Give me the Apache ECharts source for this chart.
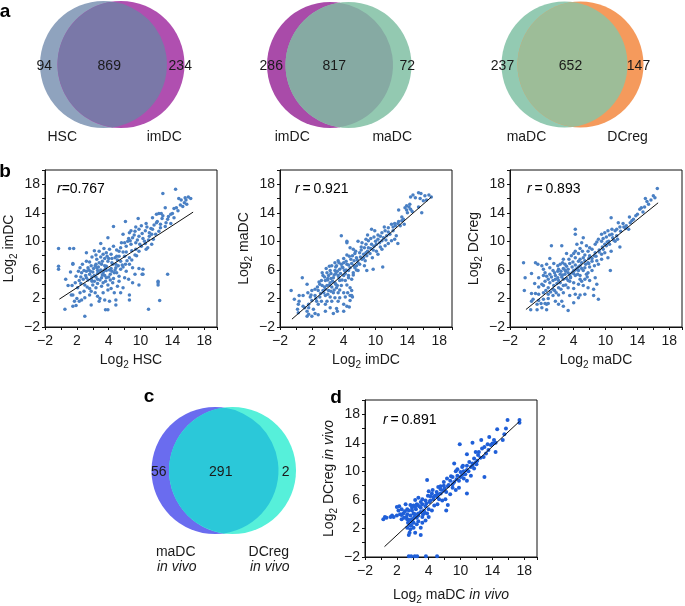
<!DOCTYPE html>
<html><head><meta charset="utf-8">
<script src="https://cdn.jsdelivr.net/npm/echarts@6/dist/echarts.min.js"></script>
<style>html,body{margin:0;padding:0;background:#fff}#c{width:685px;height:606px}</style>
</head><body><div id="c"></div>
<script>
// ---------------- data ----------------
const xTickLabels = ['−2','2','4','10','14','18'];
const yTickLabels = ['−2','2','6','10','14','18'];

const vennNames  = [['HSC','imDC'],['imDC','maDC'],['maDC','DCreg']];
const vennCounts = [[94,869,234],[286,817,72],[237,652,147]];
const vennCNames = ['maDC','DCreg'];
const vennCSuffix = 'in vivo';
const vennCCounts = [56,291,2];

const rValues = ['0.767','0.921','0.893','0.891'];

const pointsHSCimDC = [[14.4,17.3],[12.8,16.7],[16.0,16.2],[16.3,16.0],[15.6,16.1],[14.8,16.0],[15.1,15.8],[15.5,15.4],[15.8,15.2],[15.3,14.9],[14.5,14.7],[13.1,14.7],[12.3,13.9],[12.0,13.8],[12.8,13.6],[13.8,13.8],[14.7,14.3],[14.2,13.3],[13.4,13.1],[12.7,13.2],[12.1,12.8],[11.5,13.3],[9.7,13.2],[8.1,12.8],[10.7,12.5],[11.7,12.3],[12.5,12.4],[13.1,12.1],[13.8,12.5],[11.5,11.7],[11.1,11.2],[10.6,11.5],[9.8,11.7],[9.4,12.0],[8.6,11.2],[7.8,11.0],[6.6,12.1],[5.9,10.5],[5.0,9.7],[8.5,10.4],[9.0,10.5],[9.8,10.7],[10.3,10.4],[11.1,10.7],[11.6,10.3],[11.9,11.0],[12.3,11.4],[10.6,9.7],[9.9,9.6],[9.4,9.8],[8.8,9.6],[8.2,9.3],[7.5,9.1],[7.3,8.6],[7.8,8.5],[8.2,8.5],[8.9,8.7],[9.4,8.9],[9.8,8.6],[10.7,8.9],[10.9,9.1],[11.4,9.6],[9.3,8.1],[8.6,7.7],[8.0,7.9],[7.3,7.9],[6.8,7.7],[6.3,8.2],[5.7,8.4],[5.3,8.2],[4.8,8.6],[4.2,8.7],[3.2,8.4],[3.9,7.8],[4.5,7.5],[5.2,7.2],[5.9,7.2],[6.4,7.0],[6.9,6.8],[7.5,7.2],[8.1,6.8],[8.6,6.8],[9.0,6.3],[9.8,6.2],[10.2,5.4],[9.3,5.4],[8.2,5.8],[7.5,6.1],[6.9,6.3],[6.3,6.2],[5.7,6.5],[5.1,6.8],[4.4,6.8],[3.8,6.6],[3.2,7.2],[2.7,6.8],[2.4,6.3],[1.5,6.8],[1.2,5.7],[1.9,5.1],[2.6,5.6],[3.2,5.8],[3.6,5.4],[4.0,5.7],[4.6,5.9],[5.3,5.6],[5.7,5.9],[6.2,5.4],[6.7,5.6],[7.3,5.1],[8.0,4.9],[8.5,4.7],[9.0,4.2],[9.8,3.9],[5.7,4.9],[5.1,4.9],[4.6,4.7],[4.2,4.4],[3.8,4.7],[3.2,4.9],[2.8,4.7],[2.3,4.5],[5.3,4.2],[5.9,3.9],[6.5,4.2],[7.1,3.7],[7.8,3.5],[5.1,3.7],[4.0,3.9],[3.0,3.9],[2.1,3.5],[1.5,2.5],[4.4,3.5],[5.9,3.2],[6.7,2.8],[7.5,2.8],[8.6,2.5],[5.3,2.8],[4.6,2.3],[3.6,2.5],[3.0,2.1],[2.6,1.8],[2.0,2.0],[2.3,1.6],[1.7,1.6],[1.5,0.9],[1.9,1.0],[4.8,1.6],[5.5,1.8],[6.1,1.6],[6.9,1.8],[8.6,1.8],[5.9,0.4],[5.6,0.4],[6.9,1.1],[3.8,1.1],[0.5,0.5],[3.0,-0.5],[11.0,0.5],[12.4,1.7],[13.4,5.4],[12.2,4.4],[12.2,4.2],[12.2,3.9],[10.3,6.1],[10.3,5.4],[-0.3,9.0],[1.1,9.0],[1.6,9.0],[-0.3,6.5],[-0.3,6.1],[1.5,6.9],[0.6,4.7],[1.4,3.8],[4.5,6.3],[5.0,6.0],[5.5,6.6],[4.2,5.2],[3.5,6.0],[4.8,7.0],[6.0,7.6],[5.2,5.3],[3.9,5.0],[4.6,5.5],[6.5,6.8],[5.8,7.9],[7.0,8.8],[7.6,9.8],[8.4,10.0],[9.2,10.9],[8.8,11.5],[9.6,10.2],[10.2,11.1],[10.8,12.0],[11.3,11.8],[12.0,12.6],[13.5,13.5],[14.2,14.6],[15.0,15.1],[12.6,13.9],[7.1,7.4],[6.6,9.3],[3.6,3.4],[4.9,2.0],[2.9,3.0],[0.9,3.8],[1.3,2.5],[3.4,6.3],[3.7,5.8],[4.1,6.2],[4.3,6.6],[4.7,6.4],[4.9,5.7],[5.4,5.9],[5.6,6.2],[6.1,6.0],[6.4,5.8],[6.8,6.0],[7.2,6.6],[7.7,6.7],[3.1,5.2],[3.4,4.6],[3.9,4.4],[4.4,5.0],[4.9,4.6],[5.5,5.2],[6.0,5.0],[6.6,4.8],[2.5,5.0],[2.9,5.9],[2.2,5.8],[2.5,4.1],[3.3,3.6],[4.6,4.1],[5.6,4.4],[6.2,4.6],[7.0,5.6],[7.8,6.4],[8.3,7.3],[8.9,7.4],[9.5,8.0],[10.1,9.3],[10.5,10.0],[11.0,10.2],[11.4,11.0],[12.5,11.9],[13.2,12.6],[7.0,7.9],[6.4,7.6],[5.5,7.6],[5.0,7.8],[4.4,8.1],[3.6,7.1],[6.1,8.9],[5.4,9.0],[8.0,9.8],[8.7,10.1],[9.3,11.4],[10.1,12.2],[14.0,13.9],[15.7,15.8],[3.8,3.0],[4.3,2.8],[2.4,2.8],[1.8,4.2],[6.3,3.4],[7.3,4.4]];
const fitHSCimDC = [[-0.2,1.9],[16.6,14.1]];

const pointsImDCmaDC = [[14.4,16.2],[14.7,16.5],[15.4,16.8],[15.7,16.7],[16.2,16.4],[16.7,16.5],[17.0,16.2],[15.0,16.1],[15.6,16.0],[16.0,15.7],[16.4,15.8],[15.8,14.0],[15.4,14.8],[14.3,15.2],[13.9,15.0],[13.7,14.7],[14.2,14.8],[12.9,14.4],[13.9,14.4],[14.4,14.5],[13.3,13.4],[13.5,13.1],[12.9,12.8],[12.4,12.5],[12.0,12.4],[12.5,12.2],[13.1,12.2],[13.6,12.4],[11.6,11.9],[11.1,12.0],[11.2,11.5],[12.2,11.5],[12.6,10.8],[12.4,10.3],[12.8,9.7],[11.8,11.0],[11.4,10.8],[10.8,11.2],[10.3,10.9],[9.9,11.5],[9.5,11.7],[9.0,10.9],[9.8,10.6],[10.3,10.3],[10.8,10.1],[10.1,9.6],[9.5,9.6],[9.1,10.1],[8.8,10.3],[8.3,9.8],[7.8,10.0],[8.2,9.2],[8.6,9.1],[9.1,9.1],[9.7,8.8],[10.1,8.6],[9.3,8.3],[8.8,8.4],[8.0,8.4],[7.5,8.6],[7.2,8.9],[6.8,9.1],[6.4,10.0],[5.7,10.8],[7.1,8.0],[7.6,7.7],[8.3,7.5],[8.7,7.3],[7.8,7.0],[7.3,7.3],[6.9,7.5],[6.4,8.1],[6.0,7.6],[5.3,7.3],[4.9,7.0],[4.5,6.6],[5.1,6.6],[5.7,6.8],[6.4,6.8],[6.8,6.3],[7.4,6.3],[8.0,6.8],[8.6,6.6],[8.9,5.9],[9.7,6.1],[10.9,6.4],[7.8,5.9],[7.2,5.6],[6.6,5.9],[6.1,5.9],[5.5,6.1],[4.9,5.9],[4.3,5.9],[3.9,5.6],[3.4,5.2],[4.1,5.2],[4.7,4.9],[5.3,5.2],[6.0,5.2],[6.6,5.2],[7.0,4.7],[6.2,4.5],[5.5,4.5],[4.9,4.2],[4.3,4.2],[3.7,4.5],[3.2,4.5],[3.0,4.0],[3.9,3.8],[4.5,3.6],[5.1,3.5],[5.7,3.8],[6.4,3.9],[6.8,3.5],[7.0,3.1],[6.5,2.8],[6.0,2.8],[5.3,2.8],[4.7,2.8],[4.1,3.1],[3.4,3.1],[2.8,3.1],[2.4,3.3],[2.0,3.1],[1.5,2.8],[1.4,4.0],[0.8,4.9],[0.9,2.4],[1.8,2.2],[2.4,2.4],[3.0,2.2],[3.7,2.4],[4.3,2.2],[4.9,2.1],[5.5,2.1],[6.2,2.2],[6.8,2.4],[5.3,1.6],[6.0,1.2],[6.4,0.9],[4.5,1.6],[3.9,1.6],[3.2,1.6],[2.6,1.6],[2.0,1.7],[1.6,1.2],[0.9,0.9],[0.3,1.2],[0.4,1.6],[0.2,0.5],[1.1,0.7],[1.6,0.7],[2.2,0.5],[2.8,1.2],[3.7,1.2],[4.3,0.7],[5.1,0.6],[0.3,0.0],[1.6,-0.2],[2.4,-0.1],[1.4,-0.5],[-0.6,3.1],[6.4,9.8],[7.0,2.4],[6.8,1.7],[7.1,2.2],[6.0,0.2],[5.2,0.2],[2.8,-0.3],[2.0,-0.5],[1.4,0.2],[0.4,2.4],[-0.2,1.9],[3.7,0.2],[4.7,-0.1],[6.7,0.8],[8.5,7.7],[8.9,8.0],[9.6,7.7],[10.3,8.2],[10.8,8.9],[11.2,9.4],[11.6,9.7],[12.0,10.1],[10.6,9.2],[5.0,5.5],[5.8,6.4],[4.4,4.8],[6.3,7.2],[3.6,3.6],[7.6,6.6],[4.0,4.6],[5.5,3.2],[3.6,5.0],[4.0,4.8],[4.4,5.5],[4.8,5.3],[5.2,5.8],[5.6,5.5],[5.9,6.3],[6.3,6.0],[6.6,6.7],[7.0,6.9],[7.3,6.6],[7.7,7.4],[8.1,7.8],[8.5,8.2],[9.0,8.6],[9.4,9.0],[9.8,9.3],[10.5,9.8],[11.0,10.5],[11.6,11.3],[12.2,12.0],[12.8,12.5],[13.3,12.9],[14.0,14.0],[14.6,14.2],[3.3,3.8],[3.7,3.3],[4.2,3.9],[4.6,4.4],[5.0,4.0],[5.4,4.9],[5.8,4.6],[6.2,5.5],[6.6,4.9],[7.2,5.3],[7.6,6.0],[2.7,3.6],[3.1,2.7],[3.5,2.8],[4.0,2.6],[4.4,3.0],[4.8,3.2],[5.2,3.8],[2.5,2.0],[1.9,2.5],[2.9,4.3],[3.3,5.6],[3.8,6.2],[4.2,6.5],[5.0,6.4],[5.4,7.0],[6.0,7.0],[6.7,7.9],[7.4,8.3],[8.2,8.8],[8.8,9.6],[9.4,10.4],[10.0,10.0],[10.6,10.7],[11.3,10.2]];
const fitImDCmaDC = [[-0.5,-0.9],[17.0,16.2]];

const pointsMaDCDCreg = [[16.5,17.4],[16.0,16.4],[16.2,16.1],[15.7,15.8],[15.0,16.0],[15.2,15.6],[15.4,15.2],[14.9,14.8],[14.5,14.7],[14.3,14.5],[13.5,13.1],[13.3,12.9],[13.1,12.6],[12.6,12.2],[12.9,11.7],[12.2,12.5],[11.8,12.0],[11.6,12.6],[10.7,13.3],[10.8,11.7],[10.3,11.5],[9.9,11.2],[9.5,11.0],[10.1,10.6],[10.8,11.0],[11.2,11.5],[11.4,10.8],[11.5,10.3],[11.2,10.0],[11.8,9.2],[10.4,10.0],[9.9,9.6],[9.5,10.0],[9.1,10.3],[8.7,9.6],[8.3,8.9],[7.8,8.6],[7.6,9.4],[7.2,10.5],[7.0,9.8],[6.2,11.7],[6.2,11.0],[6.4,9.6],[6.2,8.6],[6.6,8.3],[7.1,8.6],[7.4,8.1],[8.0,8.0],[8.7,8.4],[9.2,8.8],[9.5,8.2],[9.9,8.4],[10.7,8.6],[10.3,7.7],[9.5,7.5],[8.9,7.3],[8.3,7.2],[7.8,7.0],[7.4,7.3],[6.8,7.5],[6.2,7.7],[5.7,8.0],[5.1,8.3],[4.7,7.5],[4.5,9.4],[3.2,9.4],[4.3,6.8],[4.9,6.8],[5.5,6.9],[6.2,6.7],[6.8,6.6],[7.4,6.3],[8.0,6.4],[8.6,6.6],[9.1,6.8],[8.3,5.9],[7.8,5.6],[7.2,5.9],[6.6,5.9],[6.0,5.9],[5.3,6.1],[4.7,6.2],[4.1,6.1],[3.4,5.9],[3.0,6.3],[2.6,6.8],[2.0,6.6],[1.5,6.8],[1.2,7.0],[2.4,5.6],[3.0,5.4],[3.7,5.2],[4.3,5.4],[4.9,5.4],[5.5,5.3],[6.2,5.2],[6.8,5.2],[7.4,4.7],[8.0,4.5],[8.7,4.9],[8.9,4.0],[8.5,3.3],[7.8,3.5],[7.2,3.8],[6.6,4.0],[6.0,4.2],[5.3,4.5],[4.7,4.7],[4.1,4.5],[3.4,4.5],[2.8,4.7],[2.2,5.2],[1.6,4.9],[0.7,5.5],[-0.1,4.9],[-0.3,7.0],[-0.2,3.1],[6.0,3.4],[5.3,3.5],[4.7,3.8],[4.1,3.5],[3.4,3.3],[2.8,3.5],[2.2,3.8],[1.6,3.6],[1.1,4.1],[4.7,2.8],[4.1,2.5],[3.4,2.4],[2.8,2.6],[2.2,2.8],[1.6,2.6],[1.2,2.7],[0.9,1.9],[1.6,1.7],[2.2,1.9],[2.8,2.0],[5.5,2.4],[6.2,2.6],[6.8,2.5],[7.4,2.6],[8.5,2.4],[9.1,1.9],[6.6,2.1],[5.3,0.3],[2.6,1.2],[1.9,1.3],[2.4,1.3],[2.8,1.3],[1.4,1.2],[0.7,1.6],[0.6,0.4],[1.4,0.4],[2.6,0.4],[3.7,1.6],[4.1,1.2],[4.7,0.9],[3.6,3.1],[0.7,2.7],[6.0,1.4],[10.6,5.9],[6.8,4.7],[7.6,5.4],[4.5,1.6],[2.0,0.7],[5.0,5.8],[5.8,6.4],[4.4,5.8],[6.4,6.2],[5.6,4.9],[4.0,4.9],[7.0,7.0],[7.9,7.6],[8.6,8.0],[9.6,9.2],[10.2,9.9],[10.9,10.5],[11.9,11.4],[12.3,12.0],[13.8,13.6],[14.7,14.1],[3.6,5.6],[4.0,5.8],[4.5,5.0],[4.9,6.0],[5.3,5.6],[5.8,5.6],[6.2,6.0],[6.6,6.4],[7.0,6.2],[7.5,6.8],[7.9,6.9],[8.3,7.6],[8.8,7.9],[9.2,8.5],[9.7,8.9],[10.1,9.4],[10.5,9.6],[11.0,10.2],[3.2,5.0],[3.7,4.7],[4.3,4.2],[4.6,5.3],[5.1,4.8],[5.6,5.0],[6.0,5.5],[6.5,5.4],[7.0,4.4],[7.7,5.0],[2.6,5.1],[3.0,4.2],[3.5,3.8],[3.9,4.1],[4.4,3.3],[5.0,3.9],[5.5,4.4],[2.4,4.4],[2.0,4.0],[2.5,3.1],[3.1,2.9],[3.8,2.8],[5.1,6.5],[5.9,7.1],[6.6,7.2],[7.2,7.7],[4.0,6.6],[3.5,6.9],[4.6,7.0],[5.4,7.5],[6.0,8.3],[6.8,9.0],[8.0,9.1],[8.9,9.9],[9.7,10.4],[10.5,10.9],[11.4,11.7],[12.5,11.8],[13.0,13.4],[14.0,13.8],[3.0,7.6],[2.2,6.1]];
const fitMaDCDCreg = [[0.0,0.45],[16.6,15.4]];

const pointsInVivo = [[17.4,17.2],[17.4,16.8],[15.9,17.2],[14.6,15.9],[15.5,15.2],[15.7,16.0],[14.2,14.4],[14.4,14.0],[14.0,13.9],[13.8,13.7],[13.4,13.8],[13.0,13.4],[12.7,13.2],[13.5,13.0],[13.2,12.5],[14.4,12.7],[12.3,12.7],[11.9,12.7],[11.5,14.0],[9.9,13.8],[10.8,12.4],[11.7,11.8],[12.1,11.5],[11.9,11.2],[11.5,11.1],[11.1,11.3],[10.8,10.8],[11.3,10.6],[11.7,10.4],[10.8,10.2],[10.4,10.0],[10.0,9.9],[9.4,10.0],[9.6,9.4],[10.0,9.2],[10.4,9.0],[10.8,8.7],[11.3,9.4],[13.0,9.2],[9.8,8.7],[9.2,8.5],[8.7,8.7],[8.3,9.0],[7.9,8.5],[8.4,7.9],[9.0,7.7],[9.4,7.4],[9.8,7.7],[10.8,6.9],[8.7,6.8],[8.2,7.1],[7.8,7.3],[7.5,7.5],[7.1,6.8],[6.8,6.6],[6.4,6.9],[6.0,7.2],[5.8,8.8],[6.2,6.5],[6.6,6.1],[7.3,6.1],[7.7,5.9],[8.1,6.1],[8.4,5.3],[7.1,5.4],[6.7,5.2],[6.1,5.7],[5.6,5.9],[5.2,6.1],[4.7,6.3],[4.3,6.0],[5.0,5.7],[4.5,5.4],[4.1,5.2],[3.7,5.3],[3.1,5.4],[2.3,5.1],[2.6,4.7],[3.3,4.7],[3.9,4.9],[4.4,4.7],[5.0,4.9],[5.6,5.1],[6.0,4.7],[6.4,4.5],[5.8,4.1],[5.3,4.0],[4.7,4.1],[4.1,4.1],[3.7,3.8],[3.3,4.0],[2.8,4.1],[2.2,4.5],[2.0,3.8],[1.6,3.6],[1.2,3.6],[0.7,3.5],[0.3,3.3],[0.5,3.6],[1.4,3.8],[2.6,3.3],[3.3,3.3],[3.9,3.3],[4.5,3.5],[5.2,3.6],[4.1,2.8],[3.6,2.5],[3.3,2.1],[3.7,1.9],[4.1,2.1],[4.5,2.6],[5.2,2.8],[5.6,3.1],[5.0,2.1],[4.3,1.4],[3.5,1.1],[5.0,1.1],[3.6,1.4],[3.8,2.4],[4.0,3.3],[2.0,5.0],[2.6,3.9],[4.3,4.0],[4.6,5.3],[5.4,4.5],[6.0,3.6],[3.5,-1.9],[3.8,-1.9],[4.25,-1.9],[4.55,-1.9],[5.65,-1.9],[7.05,-1.9],[8.2,4.5],[7.1,6.4],[7.5,7.9],[9.0,9.2],[10.2,10.6],[9.2,11.1],[12.2,12.3],[13.6,14.8],[12.6,14.4],[15.3,14.4],[3.0,4.4],[3.5,4.5],[3.9,4.5],[4.3,5.0],[4.8,5.1],[5.2,5.4],[5.7,5.5],[6.2,5.9],[6.6,6.4],[7.0,7.1],[7.5,6.9],[8.0,7.6],[8.5,8.1],[9.0,8.2],[9.5,8.9],[10.2,9.5],[10.6,9.6],[11.0,10.0],[11.5,10.8],[12.0,11.0],[12.5,11.9],[12.9,12.0],[3.2,3.6],[3.6,3.2],[4.2,3.6],[4.7,3.8],[5.0,4.3],[5.5,4.2],[3.9,2.9],[4.7,3.0],[2.4,4.0],[2.9,3.5],[3.4,2.8],[5.9,6.6],[6.5,7.4],[7.2,7.8],[7.9,8.0],[8.8,9.3],[9.6,10.3],[10.3,10.8]];
const fitInVivo = [[0.45,-0.55],[17.4,17.0]];

// ---------------- layout / style ----------------
const FONT = "'Liberation Sans', Arial, Helvetica, sans-serif";
const TXT = '#1a1a1a';
const GW = 172, GH = 157;

const chart = echarts.init(document.getElementById('c'), null, {renderer: 'canvas', width: 685, height: 606});

const richAxis = {
  a: {fontSize: 14, lineHeight: 20, color: TXT, fontFamily: FONT},
  s: {fontSize: 10, lineHeight: 10, verticalAlign: 'bottom', color: TXT, fontFamily: FONT},
  i: {fontSize: 14, lineHeight: 20, fontStyle: 'italic', color: TXT, fontFamily: FONT}
};
function logName(name, italicSuffix) {
  return '{a|Log}{s|2}{a| ' + name + (italicSuffix ? ' ' : '') + '}' + (italicSuffix ? '{i|' + italicSuffix + '}' : '');
}
function tickFmt(labels) {
  return function (v) {
    const k = (v + 2) / 4;
    const r = Math.round(k);
    if (Math.abs(k - r) < 1e-6 && r >= 0 && r < labels.length) return labels[r];
    return '';
  };
}

const panels = [
  {left: 45,  top: 170, xName: logName('HSC'),  yName: logName('imDC'),  pts: pointsHSCimDC,  fit: fitHSCimDC,  color: '#4a80c4', size: 3.5, xGap: 23},
  {left: 280, top: 170, xName: logName('imDC'), yName: logName('maDC'),  pts: pointsImDCmaDC, fit: fitImDCmaDC, color: '#4a80c4', size: 3.5, xGap: 23},
  {left: 510, top: 170, xName: logName('maDC'), yName: logName('DCreg'), pts: pointsMaDCDCreg, fit: fitMaDCDCreg, color: '#4a80c4', size: 3.5, xGap: 23},
  {left: 365, top: 400, xName: logName('maDC', vennCSuffix), yName: logName('DCreg', vennCSuffix), pts: pointsInVivo, fit: fitInVivo, color: '#1f5fd8', size: 4, xGap: 28}
];
const rPos = [[57,189],[295,189],[527,189],[383,420]];

const vennLayout = [
  {mid: 112.25, cy: 64.5, r: 63.5, sep: 17.5, colors: ['#8fa3be', '#b04fb0', '#7a78a8'], nameDx: [-50, 52], nameDy: 72.5, countDx: [-68, -3, 68]},
  {mid: 339.25, cy: 65,   r: 63,   sep: 18.5, colors: ['#a94ba9', '#93c9b1', '#86aaa3'], nameDx: [-47, 53], nameDy: 72.5, countDx: [-68, -5, 68]},
  {mid: 572.5,  cy: 64.5, r: 63,   sep: 16,   colors: ['#93cab2', '#f59a5c', '#9dbd98'], nameDx: [-46, 55], nameDy: 72.5, countDx: [-70, -2, 66]},
  {mid: 223.75, cy: 470.5, r: 63.5, sep: 17.5, colors: ['#6a6cef', '#56f0da', '#2bc8d9'], nameDx: [-48, 45], nameDy: 81.5, countDx: [-65, -3, 62]}
];

const grids = [], xAxes = [], yAxes = [], series = [];

panels.forEach((p, i) => {
  grids.push({left: p.left, top: p.top, width: GW, height: GH, show: true, borderColor: '#111', borderWidth: 1, backgroundColor: 'transparent', containLabel: false});
  const common = {
    gridIndex: i, type: 'value', interval: 4, min: -2,
    axisLine: {show: true, onZero: false, lineStyle: {color: '#111', width: 1}},
    axisTick: {show: true, length: 3, lineStyle: {color: '#111'}},
    minorTick: {show: true, splitNumber: 2, length: 3, lineStyle: {color: '#111'}},
    splitLine: {show: false}, minorSplitLine: {show: false},
    nameLocation: 'middle',
    nameTextStyle: {rich: richAxis}
  };
  xAxes.push(Object.assign({}, common, {
    max: 19.6, name: p.xName, nameGap: p.xGap,
    axisLabel: {formatter: tickFmt(xTickLabels), color: TXT, fontSize: 14, fontFamily: FONT, margin: 7, showMaxLabel: false}
  }));
  yAxes.push(Object.assign({}, common, {
    max: 20, name: p.yName, nameGap: 26,
    axisLabel: {formatter: tickFmt(yTickLabels), color: TXT, fontSize: 14, fontFamily: FONT, margin: 5, showMaxLabel: false}
  }));
  series.push({type: 'scatter', xAxisIndex: i, yAxisIndex: i, data: p.pts, symbolSize: p.size,
    itemStyle: {color: p.color, opacity: 1}, silent: true, z: 2});
  series.push({type: 'line', xAxisIndex: i, yAxisIndex: i, data: p.fit, symbol: 'none',
    lineStyle: {color: '#111', width: 1}, silent: true, z: 3});
});

function makeVennRender(v, names, counts, italicSuffix) {
  return function (params, api) {
    const h = v.sep / 2 / v.r;
    const c1 = api.coord([-h, 0]);
    const c2 = api.coord([h, 0]);
    const R = api.size([1, 1])[0];
    const cy = c1[1];
    const xm = (c1[0] + c2[0]) / 2;
    const d = c2[0] - c1[0];
    const a = Math.sqrt(R * R - d * d / 4);
    const lens = 'M' + xm + ' ' + (cy - a) + ' A' + R + ' ' + R + ' 0 0 0 ' + xm + ' ' + (cy + a) +
                 ' A' + R + ' ' + R + ' 0 0 0 ' + xm + ' ' + (cy - a) + ' Z';
    const txt = (s, x, y, italic) => ({type: 'text', x: x, y: y, z2: 10,
      style: {text: String(s), fill: TXT, fontSize: 14, fontFamily: FONT, fontStyle: italic ? 'italic' : 'normal', align: 'center', verticalAlign: 'middle'}});
    const children = [
      {type: 'circle', shape: {cx: c1[0], cy: cy, r: R}, style: {fill: v.colors[0]}},
      {type: 'circle', shape: {cx: c2[0], cy: cy, r: R}, style: {fill: v.colors[1]}},
      {type: 'path', shape: {pathData: lens}, style: {fill: v.colors[2]}}
    ];
    counts.forEach((c, k) => children.push(txt(c, xm + v.countDx[k], cy + 1.5)));
    names.forEach((n, k) => {
      children.push(txt(n, xm + v.nameDx[k], cy + v.nameDy));
      if (italicSuffix) children.push(txt(italicSuffix, xm + v.nameDx[k] + 1, cy + v.nameDy + 15, true));
    });
    return {type: 'group', children: children};
  };
}

vennLayout.forEach((v, j) => {
  const gi = panels.length + j;
  const half = v.sep / 2 / v.r + 1;
  grids.push({left: v.mid - v.sep / 2 - v.r, top: v.cy - v.r, width: v.sep + 2 * v.r, height: 2 * v.r, show: false});
  xAxes.push({gridIndex: gi, type: 'value', min: -half, max: half, show: false});
  yAxes.push({gridIndex: gi, type: 'value', min: -1, max: 1, show: false});
  const names = j < 3 ? vennNames[j] : vennCNames;
  const counts = j < 3 ? vennCounts[j] : vennCCounts;
  series.push({type: 'custom', xAxisIndex: gi, yAxisIndex: gi, data: [[0, 0]], clip: false, silent: true,
    renderItem: makeVennRender(v, names, counts, j < 3 ? null : vennCSuffix)});
});

const letterStyle = (t) => ({text: t, fill: '#000', fontSize: 19, fontWeight: 'bold', fontFamily: FONT, align: 'center', verticalAlign: 'middle'});
const rRich = {i: {fontStyle: 'italic', fontSize: 14, fontFamily: FONT, color: TXT}, n: {fontSize: 14, fontFamily: FONT, color: TXT}};
const graphic = [
  {type: 'text', x: 5, y: 12, style: letterStyle('a')},
  {type: 'text', x: 5, y: 172, style: letterStyle('b')},
  {type: 'text', x: 149, y: 397, style: letterStyle('c')},
  {type: 'text', x: 336, y: 398, style: letterStyle('d')}
];
rValues.forEach((r, i) => {
  const sep = i === 0 ? '' : '\u2009';
  graphic.push({type: 'text', x: rPos[i][0], y: rPos[i][1], z: 10,
    style: {text: '{i|r}{n|' + sep + '=' + sep + r + '}', rich: rRich, align: 'left', verticalAlign: 'middle'}});
});

chart.setOption({
  animation: false,
  backgroundColor: '#fff',
  grid: grids, xAxis: xAxes, yAxis: yAxes, series: series, graphic: graphic
});
</script></body></html>
